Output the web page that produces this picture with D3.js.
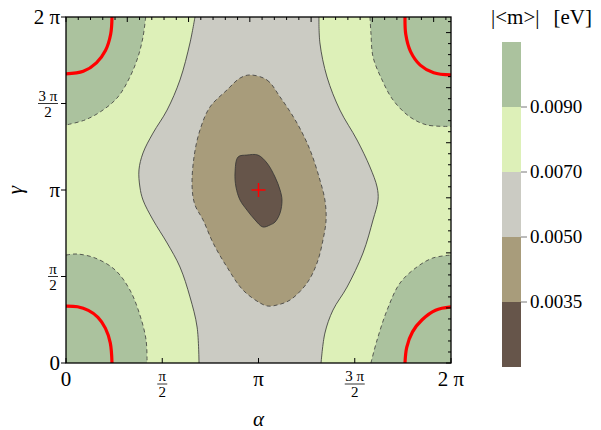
<!DOCTYPE html>
<html>
<head>
<meta charset="utf-8">
<script src="https://cdn.jsdelivr.net/npm/d3@7"></script>
<style>
  body { margin: 0; background: #fff; }
</style>
</head>
<body>
<script>
const width = 601
const height = 430
const margin = { left: 66, top: 17, right: 150, bottom: 67 }
const pw = 451 - margin.left
const ph = 363 - margin.top

// contour boundaries, [alpha/pi, gamma/pi]
const green_bl = [[0,0.624],[0.057,0.63],[0.151,0.607],[0.255,0.538],[0.332,0.422],[0.384,0.277],[0.416,0.133],[0.421,0]]
const green_tl = [[0.414,2],[0.4,1.884],[0.374,1.769],[0.332,1.653],[0.27,1.538],[0.192,1.462],[0.099,1.405],[0,1.376]]
const green_tr = [[1.579,2],[1.584,1.908],[1.595,1.769],[1.642,1.636],[1.699,1.52],[1.787,1.422],[1.875,1.376],[2,1.368]]
const green_br = [[1.584,0],[1.616,0.133],[1.668,0.306],[1.735,0.462],[1.823,0.555],[1.906,0.607],[2,0.624]]

const gray_left = [[0.67,2],[0.644,1.85],[0.592,1.636],[0.525,1.462],[0.452,1.329],[0.4,1.214],[0.379,1.116],
  [0.384,1.017],[0.4,0.942],[0.452,0.827],[0.525,0.694],[0.592,0.555],[0.644,0.382],[0.681,0.208],[0.691,0]]
const gray_right = [[1.314,2],[1.319,1.85],[1.356,1.653],[1.423,1.462],[1.512,1.289],[1.579,1.133],[1.616,1.017],
  [1.621,0.942],[1.595,0.827],[1.543,0.636],[1.46,0.439],[1.387,0.306],[1.345,0.173],[1.325,0]]

const tan = [[0.956,1.665],[1.044,1.636],[1.112,1.538],[1.2,1.387],[1.268,1.231],[1.319,1.058],[1.345,0.942],
  [1.351,0.827],[1.335,0.711],[1.304,0.578],[1.252,0.462],[1.164,0.364],[1.096,0.335],[1.049,0.329],[1.008,0.347],
  [0.919,0.422],[0.836,0.555],[0.764,0.694],[0.712,0.827],[0.67,0.913],[0.655,1.017],[0.665,1.191],[0.696,1.347],
  [0.748,1.48],[0.836,1.578],[0.904,1.647]]

const brown = [[0.894,1.191],[0.94,1.202],[0.997,1.202],[1.044,1.156],[1.086,1.075],[1.112,1],[1.122,0.942],
  [1.112,0.867],[1.086,0.815],[1.06,0.798],[1.023,0.786],[0.982,0.827],[0.94,0.884],[0.904,0.942],[0.883,1.017],
  [0.878,1.098]]

const red_bl = [[0,0.329],[0.06,0.325],[0.116,0.304],[0.166,0.264],[0.205,0.2],[0.23,0.116],[0.239,0]]
const red_tl = [[0.239,2],[0.232,1.9],[0.205,1.806],[0.158,1.735],[0.09,1.686],[0,1.671]]
const red_tr = [[1.761,2],[1.765,1.9],[1.79,1.8],[1.84,1.722],[1.91,1.678],[2,1.665]]
const red_br = [[1.761,0],[1.77,0.09],[1.8,0.18],[1.85,0.25],[1.92,0.305],[2,0.324]]

const best_fit = [1, 1]

const levels = ['0.0035', '0.0050', '0.0070', '0.0090']
const level_colors = ['#66554a', '#a89c7b', '#cbcbc3', '#ddf0b8', '#abc29e']

const pi_ticks = [0, 0.5, 1, 1.5, 2]
const pi_labels = [['0'], ['π', '2'], ['π'], ['3 π', '2'], ['2 π']]

const x = d3.scaleLinear().domain([0, 2 * Math.PI]).range([0, pw])
const y = d3.scaleLinear().domain([0, 2 * Math.PI]).range([ph, 0])

const line = d3.line()
  .x((d) => x(d[0] * Math.PI))
  .y((d) => y(d[1] * Math.PI))
  .curve(d3.curveCatmullRom)

const closed = d3.line()
  .x((d) => x(d[0] * Math.PI))
  .y((d) => y(d[1] * Math.PI))
  .curve(d3.curveCatmullRomClosed)

const pt = (a, g) => [x(a * Math.PI), y(g * Math.PI)]
const corner = (pts, c) => line(pts) + 'L' + pt(c[0], c[1]) + 'Z'

let svg = d3.select('body')
  .append('svg')
    .attr('width', width)
    .attr('height', height)

svg.append('defs').append('clipPath').attr('id', 'plot')
  .append('rect').attr('width', pw).attr('height', ph)

let g = svg.append('g')
  .attr('transform', 'translate(' + [margin.left, margin.top] + ')')

let plot = g.append('g').attr('clip-path', 'url(#plot)')

// fills

plot.append('rect')
  .attr('width', pw).attr('height', ph)
  .attr('fill', level_colors[3])

const corners = [[green_bl, [0, 0]], [green_tl, [0, 2]], [green_tr, [2, 2]], [green_br, [2, 0]]]
corners.forEach(([pts, c]) => {
  plot.append('path').attr('d', corner(pts, c)).attr('fill', level_colors[4])
})

plot.append('path')
  .attr('d', line(gray_left) + line(gray_right.slice().reverse()).replace(/^M/, 'L') + 'Z')
  .attr('fill', level_colors[2])

plot.append('path').attr('d', closed(tan)).attr('fill', level_colors[1])
plot.append('path').attr('d', closed(brown)).attr('fill', level_colors[0])

// contour lines

const dashed = (d) => plot.append('path').attr('d', d)
  .attr('fill', 'none').attr('stroke', '#3a3a3a').attr('stroke-width', 0.8)
  .attr('stroke-dasharray', '4 3')
const solid = (d) => plot.append('path').attr('d', d)
  .attr('fill', 'none').attr('stroke', '#333').attr('stroke-width', 0.8)

;[green_bl, green_tl, green_tr, green_br].forEach((p) => dashed(line(p)))
solid(line(gray_left))
solid(line(gray_right))
dashed(closed(tan))
solid(closed(brown))

// red curves

;[red_bl, red_tl, red_tr, red_br].forEach((p) => {
  plot.append('path').attr('d', line(p))
    .attr('fill', 'none').attr('stroke', '#f00').attr('stroke-width', 3.2)
})

const c = pt(best_fit[0], best_fit[1])
plot.append('path')
  .attr('d', 'M' + (c[0] - 7) + ',' + c[1] + 'H' + (c[0] + 7) + 'M' + c[0] + ',' + (c[1] - 7) + 'V' + (c[1] + 7))
  .attr('stroke', '#f00').attr('stroke-width', 1.5)

// frame & ticks

g.append('rect')
  .attr('width', pw).attr('height', ph)
  .attr('fill', 'none').attr('stroke', '#000').attr('stroke-width', 1.3)

const num_ticks = d3.range(0, 6.3, 0.2)
num_ticks.forEach((v) => {
  const major = Math.abs(v - Math.round(v)) < 1e-6
  const len = major ? 5 : 3
  g.append('line').attr('x1', x(v)).attr('x2', x(v)).attr('y1', 0).attr('y2', len)
    .attr('stroke', '#000').attr('stroke-width', 1)
  g.append('line').attr('y1', y(v)).attr('y2', y(v)).attr('x1', pw).attr('x2', pw - len)
    .attr('stroke', '#000').attr('stroke-width', 1)
})

pi_ticks.forEach((v, i) => {
  const xv = x(v * Math.PI)
  const yv = y(v * Math.PI)
  g.append('line').attr('x1', xv).attr('x2', xv).attr('y1', ph).attr('y2', ph - 5)
    .attr('stroke', '#000').attr('stroke-width', 1)
  g.append('line').attr('y1', yv).attr('y2', yv).attr('x1', 0).attr('x2', -5)
    .attr('stroke', '#000').attr('stroke-width', 1)

  const lab = pi_labels[i]
  if (lab.length === 1) {
    g.append('text').attr('x', xv).attr('y', ph + 23)
      .attr('text-anchor', 'middle').attr('font-size', 21).text(lab[0])
    g.append('text').attr('x', -6).attr('y', yv + 7)
      .attr('text-anchor', 'end').attr('font-size', 21).text(lab[0])
  } else {
    const fw = lab[0].length > 1 ? 20 : 10
    let b = g.append('g').attr('transform', 'translate(' + [xv, ph + 21] + ')')
    b.append('text').attr('text-anchor', 'middle').attr('y', -3).attr('font-size', 15).text(lab[0])
    b.append('line').attr('x1', -fw / 2).attr('x2', fw / 2).attr('stroke', '#000').attr('stroke-width', 0.8)
    b.append('text').attr('text-anchor', 'middle').attr('y', 13).attr('font-size', 15).text(lab[1])
    let l = g.append('g').attr('transform', 'translate(' + [-8 - fw / 2, yv] + ')')
    l.append('text').attr('text-anchor', 'middle').attr('y', -3).attr('font-size', 15).text(lab[0])
    l.append('line').attr('x1', -fw / 2).attr('x2', fw / 2).attr('stroke', '#000').attr('stroke-width', 0.8)
    l.append('text').attr('text-anchor', 'middle').attr('y', 13).attr('font-size', 15).text(lab[1])
  }
})

g.append('text')
  .attr('x', pw / 2).attr('y', 409)
  .attr('text-anchor', 'middle').attr('font-size', 21).attr('font-style', 'italic')
  .text('α')

g.append('text')
  .attr('transform', 'translate(' + [-44, y(Math.PI)] + ')rotate(-90)')
  .attr('text-anchor', 'middle').attr('font-size', 21).attr('font-style', 'italic')
  .text('γ')

// legend

const lg = svg.append('g').attr('transform', 'translate(502,42)')
const seg = 65
const bar = d3.scaleLinear().domain([0, 5]).range([seg * 5, 0])
level_colors.forEach((col, i) => {
  lg.append('rect').attr('x', 0).attr('width', 19)
    .attr('y', bar(i + 1)).attr('height', seg).attr('fill', col)
})
levels.forEach((t, i) => {
  lg.append('line').attr('x1', 19).attr('x2', 25).attr('y1', bar(i + 1)).attr('y2', bar(i + 1))
    .attr('stroke', '#555').attr('stroke-width', 0.8)
  lg.append('text').attr('x', 28).attr('y', bar(i + 1) + 6)
    .attr('font-size', 19).text(t)
})

svg.append('text').attr('x', 491).attr('y', 24)
  .attr('font-size', 21)
  .text('|<m>|')
svg.append('text').attr('x', 592).attr('y', 24)
  .attr('font-size', 21).attr('text-anchor', 'end')
  .text('[eV]')

svg.selectAll('text').style('font-family', 'Liberation Serif')
</script>
</body>
</html>
